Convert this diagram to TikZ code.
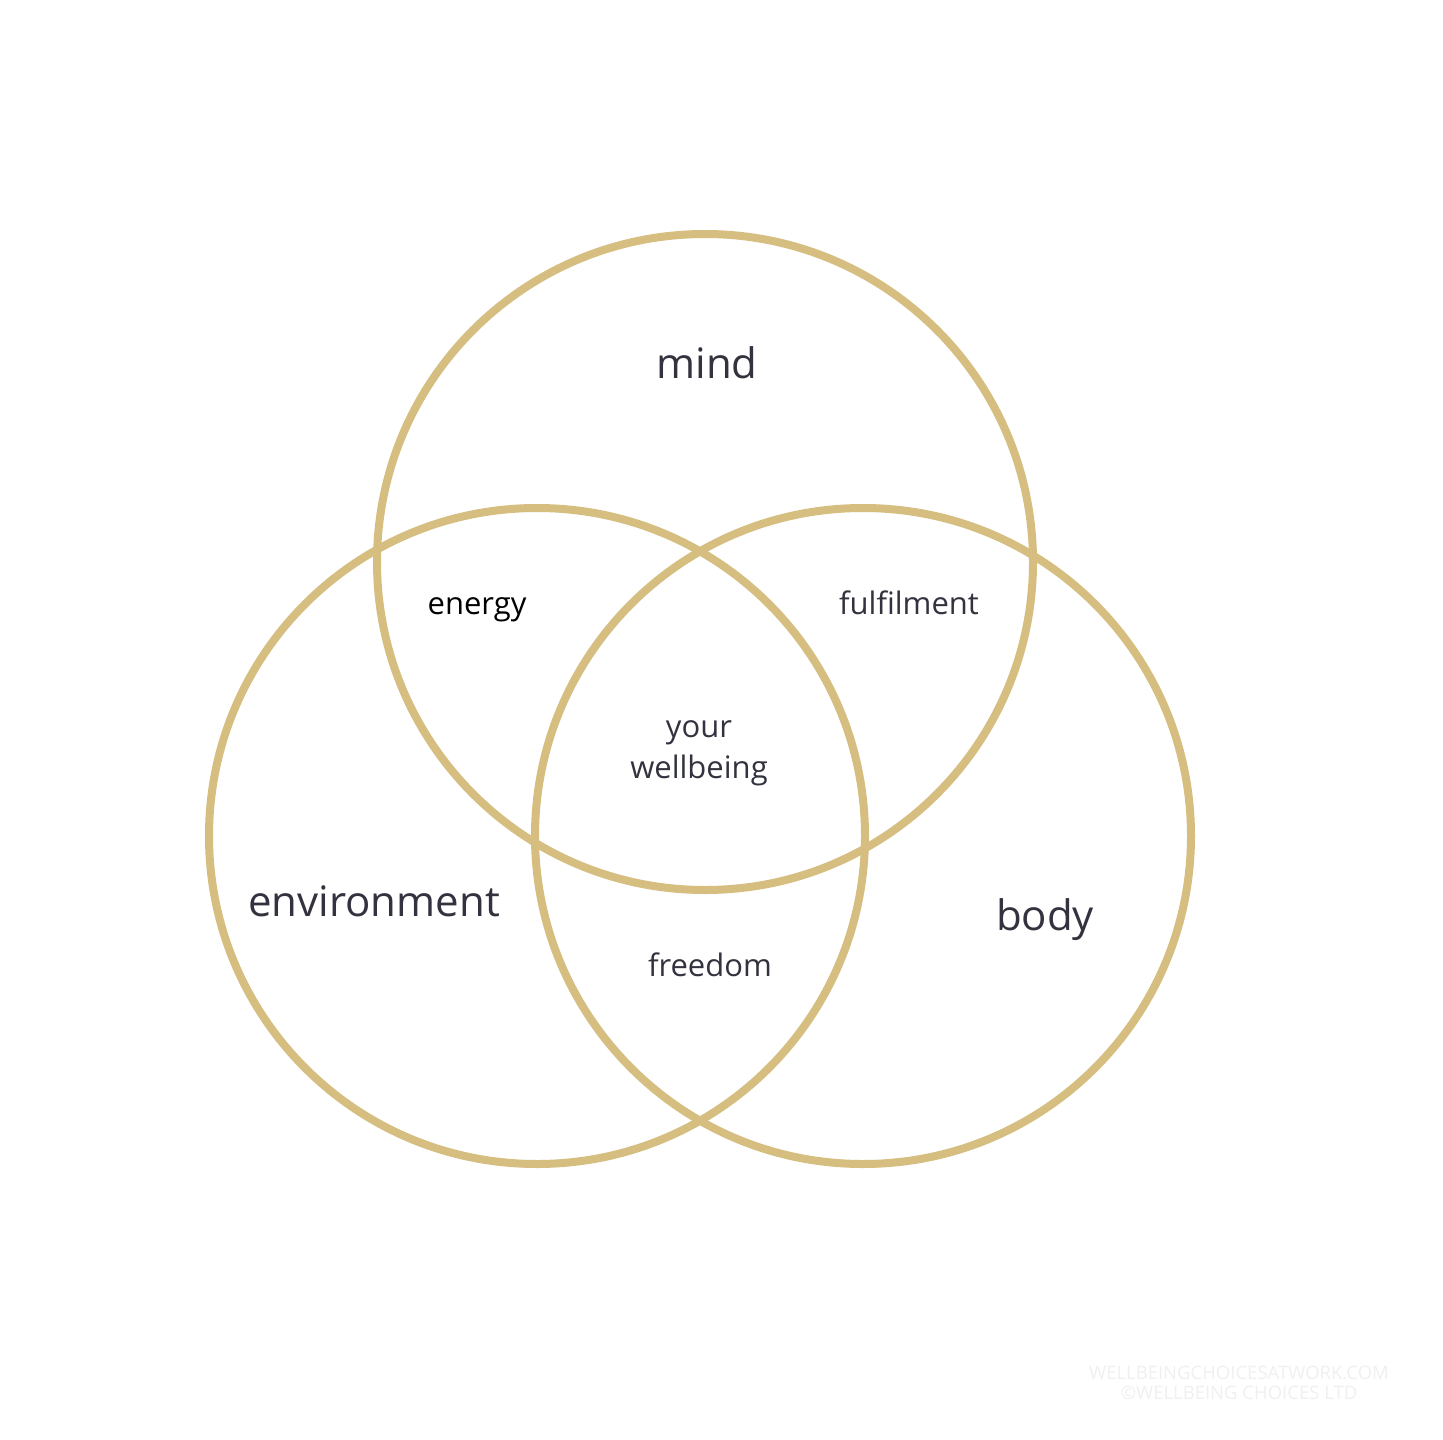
\documentclass[tikz,border=0pt]{standalone}
\usepackage{fontspec}
\setmainfont{Open Sans}
\definecolor{ring}{HTML}{D5BE80}
\definecolor{ink}{HTML}{33333F}
\definecolor{wm}{HTML}{F0F0F0}
\begin{document}
\begin{tikzpicture}[x=1pt,y=-1pt,
  ringline/.style={draw=ring,line width=8pt},
  big/.style={text=ink,font=\fontsize{42}{50}\selectfont,anchor=base},
  small/.style={text=ink,font=\fontsize{31}{40}\selectfont,anchor=base},
  wmark/.style={text=wm,font=\fontsize{18.5}{20}\selectfont,anchor=base}]
\useasboundingbox[fill=white] (0,0) rectangle (1443,1440);
\draw[ringline] (705,562) circle (328);
\draw[ringline] (537,836) circle (328);
\draw[ringline] (863,836) circle (328);
\node[big] (mind) at (707,378) {mind};
\node[big] (env) at (374,916) {environment};
\node[big] (body) at (1045,930) {body};
\node[small,text=black] (energy) at (477,614) {energy};
\node[small] (fulf) at (909,614) {fulfilment};
\node[small] (your) at (699,737) {your};
\node[small] (well) at (699,778) {wellbeing};
\node[small] (free) at (710,976) {freedom};
\node[wmark] (w1) at (1239,1379) {WELLBEINGCHOICESATWORK.COM};
\node[wmark] (w2) at (1239,1399) {©WELLBEING CHOICES LTD};
\end{tikzpicture}
\end{document}
